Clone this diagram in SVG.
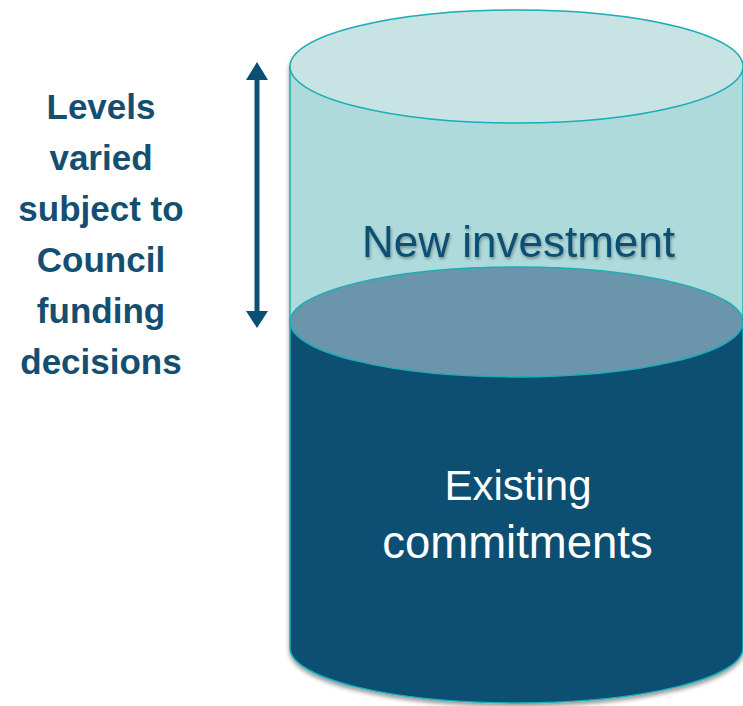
<svg xmlns="http://www.w3.org/2000/svg" width="743" height="706" viewBox="0 0 743 706">
  <defs>
    <filter id="shadow" x="-10%" y="-10%" width="120%" height="120%">
      <feGaussianBlur in="SourceAlpha" stdDeviation="2"/>
      <feOffset dx="0" dy="3" result="b"/>
      <feComponentTransfer><feFuncA type="linear" slope="0.4"/></feComponentTransfer>
      <feMerge><feMergeNode/><feMergeNode in="SourceGraphic"/></feMerge>
    </filter>
    <filter id="tshadow" x="-10%" y="-20%" width="120%" height="140%">
      <feGaussianBlur in="SourceAlpha" stdDeviation="1.5"/>
      <feOffset dx="1" dy="2" result="b"/>
      <feComponentTransfer><feFuncA type="linear" slope="0.35"/></feComponentTransfer>
      <feMerge><feMergeNode/><feMergeNode in="SourceGraphic"/></feMerge>
    </filter>
  </defs>
  <style>
    .edge { stroke: #1aaeb6; stroke-width: 1.5; }
    .label { font-family: "Liberation Sans", Arial, sans-serif; text-anchor: middle; }
    .side { font-family: "Liberation Sans", Arial, sans-serif; font-weight: bold; font-size: 35px; fill: #144f72; text-anchor: middle; }
  </style>
  <rect width="743" height="706" fill="#ffffff"/>

  <g id="cylinder" filter="url(#shadow)">
    <g id="new-investment">
      <path class="edge" d="M290 66.5 L290 322 L743 322 L743 66.5 Z" fill="#aedadb"/>
      <ellipse class="edge" cx="516.5" cy="66.5" rx="226.5" ry="56.5" fill="#c8e3e4"/>
    </g>
    <g id="existing-commitments">
      <path class="edge" d="M290 322 L290 648 A226.5 55 0 0 0 743 648 L743 322 Z" fill="#0b4f72"/>
      <ellipse class="edge" cx="516.5" cy="322" rx="226.5" ry="55" fill="#6a95aa"/>
    </g>
  </g>

  <text class="label" x="518.5" y="257" font-size="44" fill="#0b4f72" filter="url(#tshadow)">New investment</text>
  <text class="label" x="518" y="500" font-size="42" fill="#ffffff">Existing</text>
  <text class="label" x="517.5" y="558" font-size="45.5" fill="#ffffff">commitments</text>

  <g id="connectors">
    <line x1="257" y1="78" x2="257" y2="313" stroke="#0b4f72" stroke-width="5"/>
    <polygon points="257,62 268,80 246,80" fill="#0b4f72"/>
    <polygon points="257,328 268,311 246,311" fill="#0b4f72"/>
  </g>

  <g id="side-label">
    <text class="side" x="101" y="119">Levels</text>
    <text class="side" x="101" y="170">varied</text>
    <text class="side" x="101" y="221">subject to</text>
    <text class="side" x="101" y="272">Council</text>
    <text class="side" x="101" y="323">funding</text>
    <text class="side" x="101" y="374">decisions</text>
  </g>
</svg>
